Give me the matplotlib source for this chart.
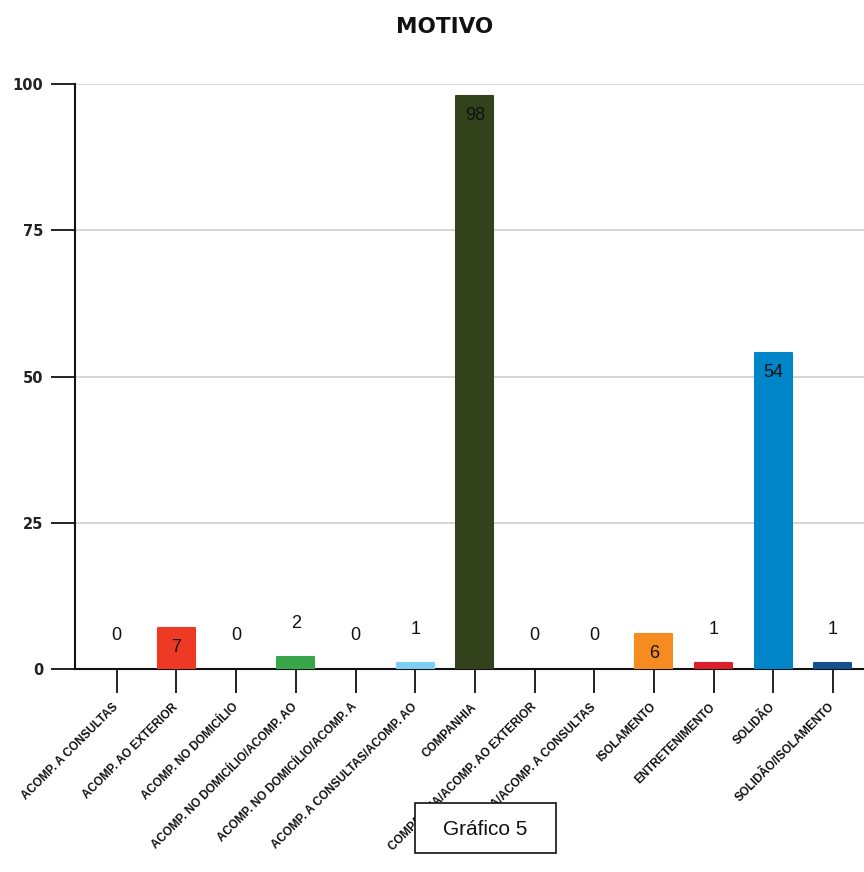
import matplotlib
matplotlib.use("Agg")
import matplotlib.pyplot as plt
from matplotlib.patches import Rectangle
import numpy as np

categories = ["ACOMP. A CONSULTAS", "ACOMP. AO EXTERIOR", "ACOMP. NO DOMICÍLIO",
              "ACOMP. NO DOMICÍLIO/ACOMP. AO", "ACOMP. NO DOMICÍLIO/ACOMP. A",
              "ACOMP. A CONSULTAS/ACOMP. AO", "COMPANHIA",
              "COMPANHIA/ACOMP. AO EXTERIOR", "COMPANHIA/ACOMP. A CONSULTAS",
              "ISOLAMENTO", "ENTRETENIMENTO", "SOLIDÃO", "SOLIDÃO/ISOLAMENTO"]
values = [0, 7, 0, 2, 0, 1, 98, 0, 0, 6, 1, 54, 1]
colors = ["#3b6fb6", "#ee3a24", "#9b59b6", "#3aa64a", "#f5c518", "#7ecdf2", "#32421b",
          "#888888", "#aaaaaa", "#f68c1f", "#dc1f2b", "#0085c8", "#12508f"]
yticks = [0, 25, 50, 75, 100]

fig = plt.figure(figsize=(8.64, 8.72), dpi=100)
ax = fig.add_axes([75/864, 1 - 669/872, 1 - 75/864, (669 - 84)/872])

x = np.arange(len(categories))
widths = [1.5 if v > 0 else 0 for v in values]
ax.bar(x, values, width=0.62, color=colors, edgecolor=colors,
       linewidth=widths, joinstyle="round", zorder=3)

ax.set_xlim(-0.7, 12.52)
ax.set_ylim(0, 100)
ax.set_yticks(yticks)
ax.set_yticklabels([str(v) for v in yticks], fontsize=10.5, fontweight="bold",
                   color="#222222")
ax.yaxis.grid(True, color="#d0d0d0", linewidth=1.2, zorder=0)
ax.set_axisbelow(True)
ax.tick_params(axis="y", length=17, width=1.3, pad=6, color="#111111")
ax.tick_params(axis="x", length=17, width=1.3, pad=4, color="#111111")

ax.set_xticks(x)
ax.set_xticklabels(categories, rotation=45, ha="right", va="center",
                   rotation_mode="anchor", fontsize=8.5, family="Liberation Sans",
                   fontweight="bold", color="#111111")
for lbl in ax.get_xticklabels():
    lbl.set_y(-0.012)

for s in ["top", "right"]:
    ax.spines[s].set_visible(False)
for s in ["left", "bottom"]:
    ax.spines[s].set_linewidth(1.5)
    ax.spines[s].set_color("#111111")

# value labels: inside the bar if it is tall enough, otherwise above it
for xi, v in zip(x, values):
    off = -14 if v >= 5 else 24
    ax.annotate(str(v), (xi, v), xytext=(0, off), textcoords="offset points",
                ha="center", va="center", fontsize=13,
                family="Liberation Sans", color="#111111", zorder=4)

fig.text(445/864, 1 - 27/872, "MOTIVO", ha="center", va="center",
         fontsize=15.5, fontweight="bold", color="#111111")

fig.patches.append(Rectangle((415/864, 1 - 853/872), 141/864, 50/872,
                             transform=fig.transFigure, facecolor="white",
                             edgecolor="#111111", linewidth=1.2, zorder=9))
fig.text(485/864, 1 - 829/872, "Gráfico 5", ha="center", va="center",
         fontsize=15, family="Liberation Sans", color="#111111", zorder=10)

fig.savefig("out.png", dpi=100, facecolor="white")
